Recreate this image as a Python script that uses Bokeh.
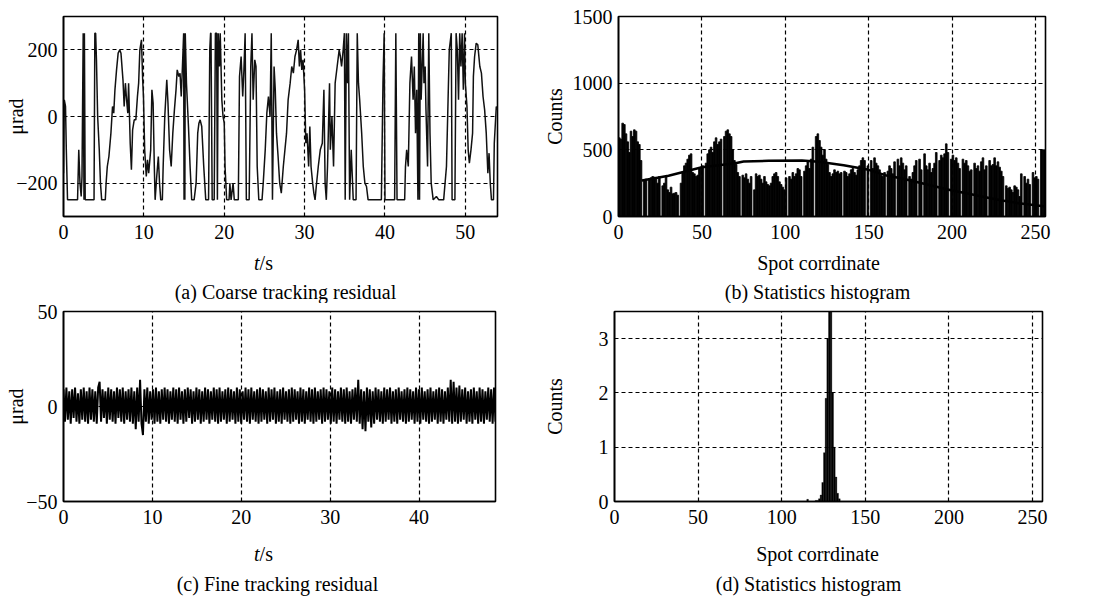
import numpy as np
from bokeh.plotting import figure
from bokeh.models import Label, FixedTicker, Range1d
from bokeh.layouts import row, column
from bokeh.embed import file_html
from bokeh.resources import INLINE

FONT = "Liberation Serif"

# ---------------- (a) coarse tracking residual ----------------
coarse_t = [0, 0.1, 0.25, 0.35, 0.5, 1.75, 1.9, 2.05, 2.2, 2.3, 2.45, 2.55, 2.6, 2.7, 3.8, 3.9, 4.0, 4.1,
            4.25, 4.45, 4.6, 4.75, 5.2, 5.3, 5.45, 5.65, 5.9, 6.1, 6.25, 6.4, 6.6, 6.8, 7.0, 7.15, 7.4,
            7.55, 7.7, 7.85, 8.0, 8.1, 8.3, 8.45, 8.6, 8.8, 9.0, 9.2, 9.35, 9.5, 9.7, 9.85, 9.95, 10.1,
            10.3, 10.45, 10.6, 10.85, 11.0, 11.15, 11.3, 11.4, 11.6, 11.8, 11.95, 12.1, 12.3, 12.4, 12.6,
            12.85, 13.0, 13.2, 13.4, 13.6, 13.8, 14.0, 14.15, 14.35, 14.5, 14.65, 14.8, 14.95, 15.0, 15.05,
            15.1, 15.15, 15.3, 15.55, 15.75, 15.95, 16.25, 16.5, 16.7, 16.85, 17.0, 17.2, 17.45, 17.7,
            18.05, 18.2, 18.3, 18.35, 18.5, 18.75, 18.9, 19.05, 19.15, 19.25, 19.4, 19.5, 19.7, 19.85,
            20.0, 20.1, 20.3, 20.6, 20.7, 20.85, 21.1, 21.25, 21.75, 21.9, 22.1, 22.3, 22.45, 22.6, 22.75,
            23.1, 23.3, 23.45, 23.6, 23.8, 23.95, 24.1, 24.3, 24.7, 24.85, 25.1, 25.3, 25.5, 25.7, 25.85,
            26.0, 26.2, 26.35, 26.5, 26.7, 26.9, 27.1, 27.35, 27.55, 27.75, 27.95, 28.2, 28.4, 28.6, 28.8,
            29.0, 29.2, 29.35, 29.5, 29.65, 29.8, 30.0, 30.15, 30.3, 30.5, 30.65, 30.8, 31.0, 31.15, 31.3,
            31.45, 31.7, 31.95, 32.2, 32.4, 32.55, 32.7, 32.85, 33.1, 33.2, 33.4, 33.6, 33.8, 34.05, 34.3,
            34.45, 34.6, 34.8, 34.95, 35.05, 35.2, 35.35, 35.45, 35.6, 35.8, 36.05, 36.4, 36.55, 36.7,
            36.85, 37.1, 37.3, 37.5, 37.7, 37.9, 39.55, 39.75, 39.9, 40.0, 41.2, 41.35, 41.5, 42.45,
            42.55, 42.7, 42.9, 43.1, 43.3, 43.5, 43.65, 43.8, 43.95, 44.1, 44.2, 44.3, 44.4, 44.5, 44.75,
            44.85, 45.0, 45.1, 45.3, 45.45, 45.6, 45.75, 46.0, 46.4, 46.7, 47.3, 47.65, 47.85, 48.0, 48.25,
            48.35, 48.7, 48.85, 49.0, 49.15, 49.3, 49.45, 49.6, 49.75, 49.9, 50.0, 50.2, 50.35, 50.5,
            50.7, 50.9, 51.0, 51.15, 51.35, 51.55, 51.8, 52.0, 52.2, 52.4, 52.6, 52.8, 52.95, 53.1, 53.25,
            53.5, 53.6, 53.85, 54.0]
coarse_v = [-170, 50, 30, -100, -250, -250, -100, -200, -240, -180, 250, -250, 250, -250, -250, 250, 250, 170,
            0, -100, -200, -250, -250, -200, -150, -120, -50, 30, 10, 80, 140, 190, 200, 190, 110,
            30, 100, 50, 10, 100, -80, -160, -40, -10, -10, 60, 100, 200, 230, 110, 60, -100,
            -180, -130, -170, -100, 80, 40, -150, -250, -180, -120, -200, -250, -250, -150, 0,
            110, 40, -100, -150, -50, 20, 80, 140, 120, 130, 60, 150, 250, -250, 250,
            -250, 250, 100, -30, -150, -250, -250, -200, -50, -20, -10, -30, -150, -250,
            -250, 200, 250, 250, -250, -250, 250, 250, -250, 250, 150, 250, 50, 0,
            -20, -150, -250, -250, -200, -250, -200, -250, -250, 120, 180, 60, 140, 250, -250,
            -250, 150, 250, 50, 170, 150, -150, -250, -250, -200, -100, 10, 60, 0, 250,
            -250, 150, 80, -50, -120, -200, -230, -150, -100, -50, 50, 100, 150, 130, 180,
            200, 230, 150, 200, 140, 170, 80, -80, -50, -150, -30, -150, -200, -230, -250,
            -210, -150, -100, -80, 80, -200, -250, -150, 100, -100, 0, -150, 100, 150, 200,
            180, 150, 200, 250, -250, 250, 100, 250, -250, -100, -250, -250, 250, 100,
            50, -50, -150, -200, -210, -250, -250, 100, 250, -250, -250, 250, -250, -250,
            -150, -100, -150, 100, 180, 50, 150, -50, 80, -250, 250, -250, 250, 50, 250,
            100, 150, 20, -150, 250, -50, -200, -250, -240, -250, -250, -150, 50, 200, 250,
            -250, -250, 250, 200, 50, 250, 150, 250, 80, 250, 100, 30, -100, -140,
            -100, -50, 120, 180, 220, 215, 150, 130, 60, 20, -50, -170, -110, -200, -250,
            -250, -80, 30, 20]

# ---------------- (b) statistics histogram (coarse) ----------------
hist_b = [590, 580, 700, 690, 620, 560, 480, 640, 600, 650, 640, 560, 540, 420, 0, 270,
          280, 0, 285, 290, 300, 295, 290, 250, 300, 0, 230, 250, 300, 200, 180, 220,
          170, 175, 180, 160, 0, 250, 330, 380, 400, 430, 460, 470, 330, 320, 300, 310,
          360, 370, 380, 0, 400, 470, 500, 520, 480, 560, 590, 540, 560, 580, 0, 600,
          640, 650, 620, 600, 500, 420, 390, 330, 300, 0, 310, 290, 320, 280, 250, 300,
          0, 200, 320, 300, 310, 280, 250, 300, 260, 240, 230, 250, 300, 320, 330, 300,
          260, 240, 220, 200, 290, 0, 300, 280, 330, 300, 320, 360, 350, 300, 0, 340,
          380, 410, 360, 430, 520, 0, 600, 620, 570, 520, 460, 500, 430, 390, 330, 300,
          320, 350, 330, 340, 320, 330, 0, 340, 330, 300, 320, 350, 360, 330, 310, 350,
          380, 420, 440, 420, 0, 380, 0, 420, 360, 440, 400, 380, 350, 310, 300, 330,
          0, 340, 380, 360, 320, 410, 0, 430, 380, 440, 400, 350, 380, 0, 300, 280,
          330, 380, 420, 0, 430, 350, 0, 470, 380, 350, 400, 330, 360, 400, 480, 0,
          420, 460, 440, 470, 545, 480, 0, 430, 460, 420, 440, 400, 360, 0, 430, 400,
          420, 380, 340, 350, 0, 400, 360, 380, 340, 410, 440, 350, 380, 0, 420, 380,
          390, 440, 380, 410, 370, 340, 300, 0, 230, 210, 220, 200, 180, 230, 220, 200,
          150, 320, 0, 300, 250, 280, 240, 0, 330, 290, 300, 280, 0, 500, 500, 500]
fit_x = [14, 30, 50, 60, 70, 75, 90, 110, 120, 135, 150, 160, 170, 180, 190, 200, 210, 220, 230, 240, 250, 256]
fit_y = [270, 305, 370, 385, 400, 412, 418, 420, 410, 385, 350, 310, 285, 255, 225, 195, 170, 145, 120, 100, 85, 75]

# ---------------- (c) fine tracking residual ----------------
fine_v = [9, -8, 10, -7, 8, -9, 9, -6, 10, -8, 7, -9, 9, -7, 10, -8, 8, -9, 10, -7,
          9, -8, 8, -9, 10, 13, -8, 9, -6, 8, -9, 10, -7, 9, -8, 8, -9, 10, -6, 9,
          -8, 10, -9, 8, -7, 9, -8, 10, -9, 8, -12, 10, -8, 14, -9, -15, 9, -8, 10, -9,
          8, -7, 9, -9, 10, -8, 8, -9, 9, -7, 10, -8, 9, -9, 8, -7, 10, -8, 9, -9,
          10, -7, 8, -9, 9, -8, 10, -6, 9, -9, 8, -8, 10, -7, 9, -9, 8, -8, 10, -7,
          9, -9, 8, -7, 10, -8, 9, -9, 10, -8, 8, -7, 9, -9, 10, -8, 9, -7, 8, -9,
          10, -8, 9, -9, 8, -7, 10, -8, 9, -9, 10, -7, 8, -8, 9, -9, 10, -8, 9, -7,
          8, -9, 10, -8, 9, -7, 10, -9, 8, -8, 9, -9, 10, -7, 8, -8, 9, -9, 10, -8,
          9, -7, 8, -9, 10, -8, 9, -9, 8, -7, 10, -8, 9, -9, 10, -8, 8, -7, 9, -9,
          10, -8, 9, -7, 8, -9, 10, -8, 9, -9, 8, -7, 10, -8, 9, -9, 10, -8, 8, -9,
          9, -7, 10, -8, 14, -9, 9, -12, 8, -13, 10, -8, 9, -11, 8, -9, 10, -7, 9, -8,
          8, -9, 10, -8, 9, -7, 10, -9, 8, -8, 9, -9, 10, -7, 8, -8, 9, -9, 10, -8,
          9, -7, 8, -9, 10, -8, 9, -9, 10, -7, 8, -8, 9, -9, 10, -8, 8, -7, 9, -9,
          10, -8, 9, -9, 8, -7, 10, -8, 14, -9, 13, -8, 10, -9, 11, -8, 9, -7, 10, -9,
          8, -8, 9, -9, 10, -7, 8, -9, 10, -8, 9, -9, 8, -7, 10, -8, 9, -9, 10, -8]
fine_duration = 48.6

# ---------------- (d) statistics histogram (fine) ----------------
peak_bins = [115, 120, 121, 122, 123, 124, 125, 126, 127, 128, 129, 130, 131, 132, 133, 134]
peak_counts = [0.04, 0.02, 0.02, 0.05, 0.12, 0.35, 0.9, 1.9, 3.0, 3.6, 3.6, 2.0, 1.0, 0.45, 0.15, 0.05]

# ticks
a_xticks = [0, 10, 20, 30, 40, 50]
a_yticks = [-200, 0, 200]
b_xticks = [0, 50, 100, 150, 200, 250]
b_yticks = [0, 500, 1000, 1500]
c_xticks = [0, 10, 20, 30, 40]
c_yticks = [-50, 0, 50]
d_xticks = [0, 50, 100, 150, 200, 250]
d_yticks = [0, 1, 2, 3]


def make_fig(width, height, xr, yr, left, right, top, bottom, xt, yt, ylabel, ystand):
    p = figure(width=width, height=height, x_range=Range1d(*xr), y_range=Range1d(*yr),
               output_backend="svg", toolbar_location=None,
               min_border_left=left, min_border_right=right,
               min_border_top=top, min_border_bottom=bottom)
    p.background_fill_color = "white"
    p.border_fill_color = "white"
    p.outline_line_color = "black"
    p.outline_line_width = 1.6
    p.outline_line_alpha = 1.0
    p.xaxis.ticker = FixedTicker(ticks=xt)
    p.yaxis.ticker = FixedTicker(ticks=yt)
    for ax in p.axis:
        ax.major_label_text_font = FONT
        ax.major_label_text_font_size = "20px"
        ax.major_label_text_color = "black"
        ax.major_tick_line_color = None
        ax.minor_tick_line_color = None
        ax.major_tick_out = 0
        ax.major_tick_in = 0
        ax.minor_tick_out = 0
        ax.minor_tick_in = 0
        ax.axis_line_color = "black"
        ax.axis_line_width = 1.6
    p.xaxis.major_label_standoff = 8
    p.yaxis.major_label_standoff = 6
    p.yaxis.major_label_overrides = {v: ("\u2212" + str(abs(v))) for v in yt if v < 0}
    p.yaxis.axis_label = ylabel
    p.yaxis.axis_label_text_font = FONT
    p.yaxis.axis_label_text_font_size = "20px"
    p.yaxis.axis_label_text_font_style = "normal"
    p.yaxis.axis_label_text_color = "black"
    p.yaxis.axis_label_standoff = ystand
    p.xgrid.ticker = FixedTicker(ticks=xt)
    p.ygrid.ticker = FixedTicker(ticks=yt)
    for g in (p.xgrid, p.ygrid):
        g.grid_line_color = "black"
        g.grid_line_dash = "4 3"
        g.grid_line_width = 1.2
        g.grid_line_alpha = 1.0
    return p


def make_strip(height, y_top):
    s = figure(width=1093, height=height, x_range=Range1d(0, 1093), y_range=Range1d(y_top + height, y_top),
               x_axis_type=None, y_axis_type=None, output_backend="svg", toolbar_location=None,
               min_border=0)
    s.outline_line_color = None
    s.background_fill_color = "white"
    s.border_fill_color = "white"
    return s


def add_text(p, x, y, text, align="center", style="normal"):
    p.add_layout(Label(x=x, y=y, text=text, text_font=FONT, text_font_size="20px",
                       text_color="black", text_align=align, text_baseline="middle",
                       text_font_style=style))


def add_ts(p, x_center, y):
    x_left = x_center - 9.5
    add_text(p, x_left, y, "t", align="left", style="italic")
    add_text(p, x_left + 5.6, y, "/s", align="left")


# (a)
pa = make_fig(540, 248, (0, 54), (-300, 300), 63, 43, 16, 32, a_xticks, a_yticks, "\u03bcrad", -14)
pa.line(coarse_t, coarse_v, line_color="#111111", line_width=1.5)

# (b)
pb = make_fig(553, 248, (0, 256), (0, 1500), 77, 48, 16, 31, b_xticks, b_yticks, "Counts", 4)
bins_b = np.arange(len(hist_b)) + 0.5
pb.vbar(x=bins_b, top=hist_b, bottom=0, width=1.0, fill_color="black", line_color="black", line_width=0.8)
pb.line(fit_x, fit_y, line_color="black", line_width=2.5)

# caption strip 1
s1 = make_strip(55, 248)
add_ts(s1, 263, 262)
add_text(s1, 285, 291, "(a) Coarse tracking residual")
add_text(s1, 818, 262, "Spot corrdinate")
add_text(s1, 817, 291, "(b) Statistics histogram")

# (c)
pc = make_fig(540, 230, (0, fine_duration), (-50, 50), 63, 45, 8, 32, c_xticks, c_yticks, "\u03bcrad", -4)
fine_t = np.linspace(0, fine_duration, len(fine_v))
pc.line(fine_t, fine_v, line_color="black", line_width=2.0)

# (d)
pd_ = make_fig(553, 230, (0, 256), (0, 3.5), 73, 51, 8, 32, d_xticks, d_yticks, "Counts", 30)
pd_.vbar(x=np.array(peak_bins) + 0.5, top=peak_counts, bottom=0, width=1.0,
         fill_color="black", line_color="black", line_width=0.3)

# caption strip 2
s2 = make_strip(65, 533)
add_ts(s2, 263, 553)
add_text(s2, 277, 583, "(c) Fine tracking residual")
add_text(s2, 817, 553, "Spot corrdinate")
add_text(s2, 808, 583, "(d) Statistics histogram")

layout = column(row(pa, pb), s1, row(pc, pd_), s2)
open("out.html", "w").write(file_html(layout, INLINE))
